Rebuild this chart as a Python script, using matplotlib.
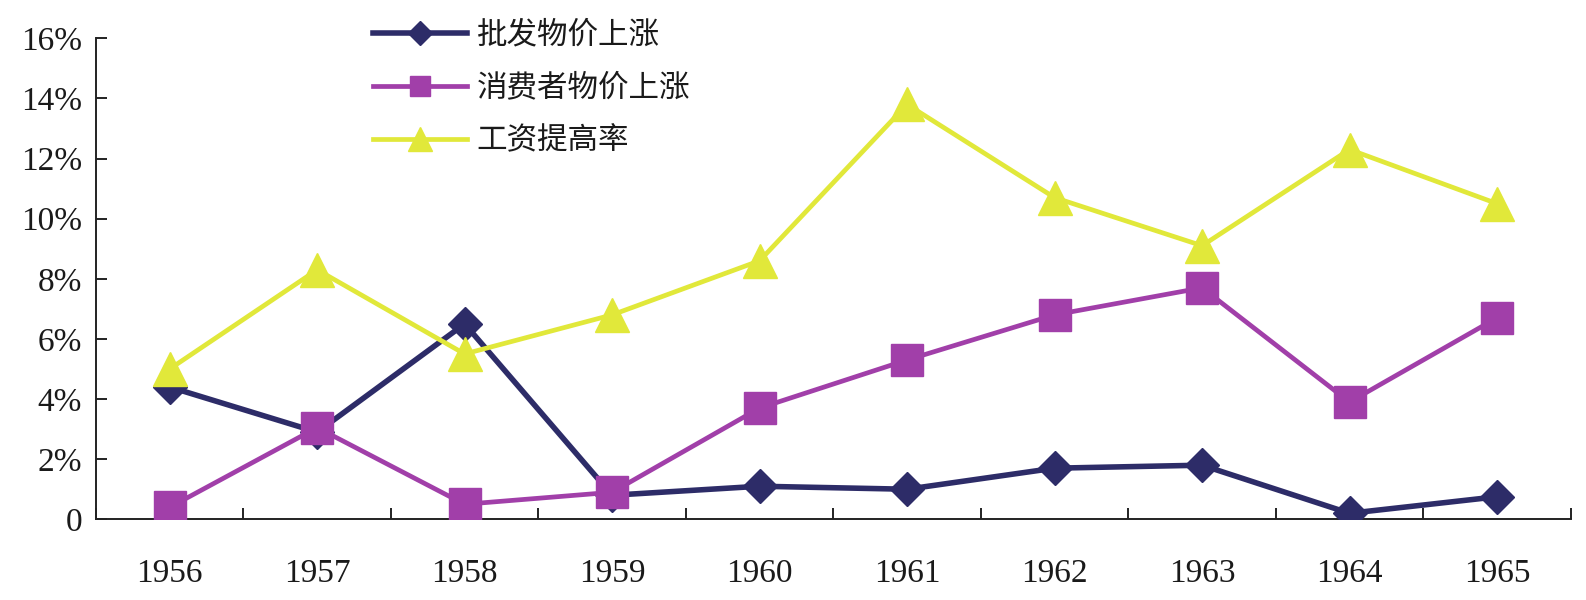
import numpy as np
import matplotlib
matplotlib.use("Agg")
import matplotlib.pyplot as plt
from matplotlib.lines import Line2D

plt.rcParams['font.family'] = ['Liberation Serif', 'Noto Sans CJK SC', 'DejaVu Sans']

# datos (%)
years = ["1956", "1957", "1958", "1959", "1960", "1961", "1962", "1963", "1964", "1965"]
wholesale = [4.4, 2.9, 6.5, 0.8, 1.1, 1.0, 1.7, 1.8, 0.2, 0.75]
consumer = [0.4, 3.05, 0.5, 0.9, 3.7, 5.3, 6.8, 7.7, 3.9, 6.7]
wages = [5.0, 8.3, 5.5, 6.8, 8.6, 13.8, 10.7, 9.1, 12.3, 10.5]
labels = ["批发物价上涨", "消费者物价上涨", "工资提高率"]
yticks = [0, 2, 4, 6, 8, 10, 12, 14, 16]
ytick_labels = ["0", "2%", "4%", "6%", "8%", "10%", "12%", "14%", "16%"]

c_navy = "#2d2c68"
c_purple = "#a13fa9"
c_yellow = "#e1e83a"

fig = plt.figure(figsize=(15.86, 6.0), dpi=100)
ax = fig.add_axes([0.0605, 0.1345, 0.9299, 0.8017])

x = np.arange(len(years))
ax.plot(x, wholesale, color=c_navy, lw=4.0, marker="D", ms=17, zorder=3)
ax.plot(x, consumer, color=c_purple, lw=3.4, marker="s", ms=23, zorder=4)
ax.plot(x, wages, color=c_yellow, lw=3.4, marker="^", ms=24, zorder=5)

ax.set_xlim(-0.5, len(years) - 0.5)
ax.set_ylim(0, 16)
ax.set_xticks(x)
ax.set_xticklabels(years, fontsize=24, color="#1a1a1a")
ax.set_xticks(np.arange(len(years) + 1) - 0.5, minor=True)
ax.tick_params(axis="x", which="major", length=0, pad=28)
ax.tick_params(axis="x", which="minor", direction="in", length=8, width=1.4, color="#222222")
ax.set_yticks(yticks)
ax.set_yticklabels(ytick_labels, fontsize=24, color="#1a1a1a")
ax.tick_params(axis="y", direction="in", length=8, width=1.4, pad=10, color="#222222")

for s in ["top", "right"]:
    ax.spines[s].set_visible(False)
for s in ["left", "bottom"]:
    ax.spines[s].set_linewidth(1.4)
    ax.spines[s].set_color("#222222")
    ax.spines[s].set_clip_on(False)

handles = [
    Line2D([], [], color=c_navy, lw=4.0, marker="D", ms=12),
    Line2D([], [], color=c_purple, lw=3.4, marker="s", ms=14.5),
    Line2D([], [], color=c_yellow, lw=3.4, marker="^", ms=17),
]
leg = fig.legend(handles, labels, loc="upper left", bbox_to_anchor=(0.235, 0.968),
                 frameon=False, borderpad=0, borderaxespad=0,
                 handlelength=3.1, handletextpad=0.3, labelspacing=0.72,
                 prop={"family": ["Noto Sans CJK SC", "DejaVu Sans"], "size": 22})
for t in leg.get_texts():
    t.set_color("#1a1a1a")

fig.savefig("out.png", dpi=100)
